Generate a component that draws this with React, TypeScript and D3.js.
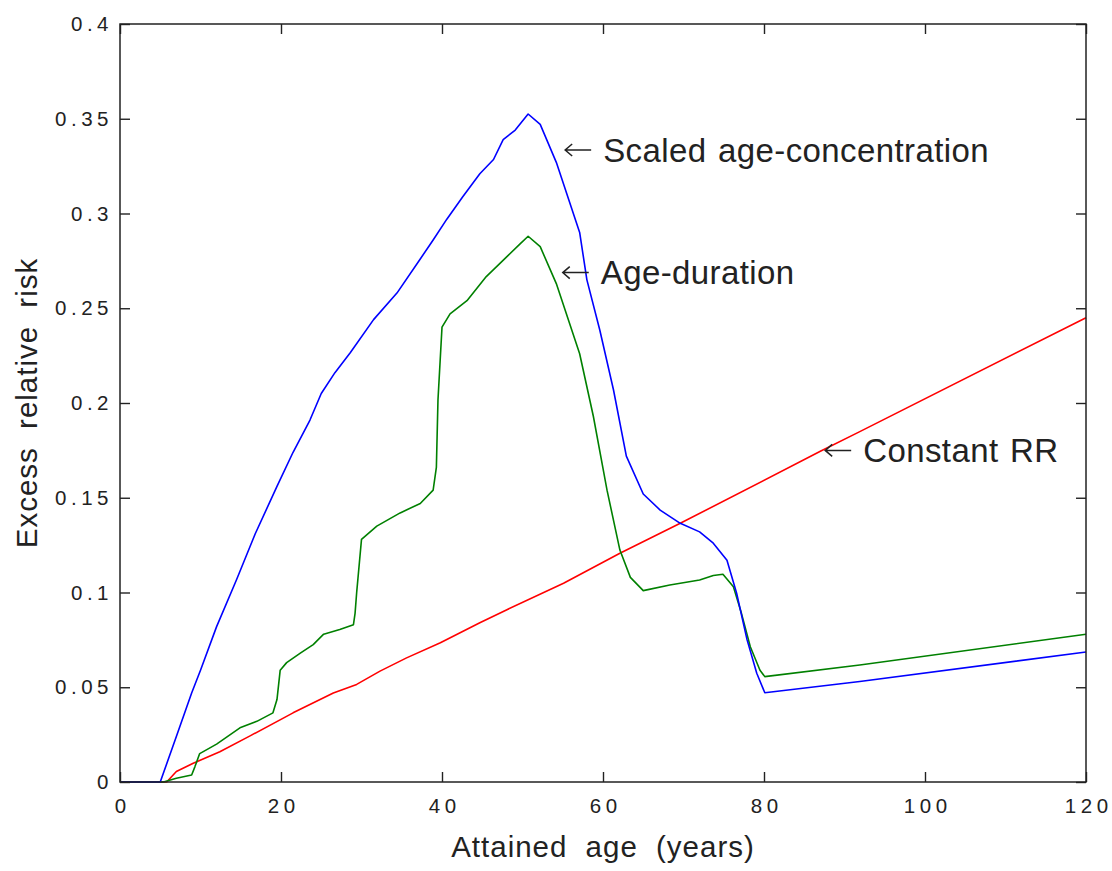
import React, { useRef, useEffect } from "react";
import * as d3 from "d3";

// Scaled age-concentration (blue)
const blueAges = [0, 5, 7, 8.9, 10, 12, 14.5, 16.8, 19.5, 21.5, 23.6, 25, 26.7, 28.6, 31.5, 34.4, 37.3, 38.9, 40.6, 42.6, 44.7, 46.4, 47.6, 49.1, 50.7, 52.2, 54.2, 57.1, 58, 59.6, 61.3, 62.9, 65, 67.1, 69.6, 72, 73.7, 75.4, 76.6, 77.9, 79.1, 80.1, 91.9, 120];
const blueValues = [0, 0, 0.024, 0.047, 0.059, 0.082, 0.107, 0.131, 0.156, 0.174, 0.191, 0.205, 0.216, 0.2265, 0.244, 0.258, 0.276, 0.286, 0.297, 0.309, 0.321, 0.3285, 0.339, 0.344, 0.3525, 0.347, 0.327, 0.29, 0.265, 0.2385, 0.207, 0.172, 0.152, 0.1435, 0.1365, 0.132, 0.126, 0.117, 0.0996, 0.075, 0.0574, 0.0471, 0.053, 0.0686];

// Age-duration (green)
const greenAges = [0, 5.4, 7, 8.9, 9.3, 9.9, 12, 14.9, 17, 19, 19.5, 19.9, 20.7, 22.4, 24, 25.3, 27.3, 29, 29.2, 29.4, 30, 31.9, 34.8, 37.3, 38.9, 39.3, 39.5, 40, 41, 43.1, 45.5, 48, 49.7, 50.7, 52.2, 54.2, 57.1, 58.8, 60.5, 62.1, 63.4, 65, 68.3, 72, 73.7, 74.9, 76.2, 77.2, 78.3, 79.5, 80.1, 91.9, 120];
const greenValues = [0, 0, 0.002, 0.0037, 0.008, 0.015, 0.02, 0.0286, 0.032, 0.0365, 0.0435, 0.059, 0.063, 0.068, 0.0725, 0.078, 0.0805, 0.083, 0.089, 0.1, 0.128, 0.135, 0.142, 0.147, 0.154, 0.166, 0.2016, 0.24, 0.247, 0.254, 0.2667, 0.277, 0.284, 0.288, 0.2825, 0.263, 0.226, 0.193, 0.154, 0.1224, 0.108, 0.101, 0.104, 0.1066, 0.109, 0.1096, 0.103, 0.089, 0.0714, 0.059, 0.0556, 0.0617, 0.078];

// Constant RR (red)
const redAges = [0, 5.8, 7, 9.1, 12.4, 16.1, 21.5, 26.5, 29.4, 32.3, 35.6, 39.8, 44.7, 48, 55.1, 62.1, 69.6, 87, 91.9, 120];
const redValues = [0, 0, 0.0055, 0.0099, 0.016, 0.0242, 0.0365, 0.047, 0.0515, 0.0585, 0.0655, 0.0735, 0.084, 0.0908, 0.1049, 0.1207, 0.1365, 0.1745, 0.1849, 0.245];

const xTicks = [0, 20, 40, 60, 80, 100, 120];
const yTicks = [0, 0.05, 0.1, 0.15, 0.2, 0.25, 0.3, 0.35, 0.4];
const yTickLabels = ["0", "0.05", "0.1", "0.15", "0.2", "0.25", "0.3", "0.35", "0.4"];

const noteLabels = ["Scaled age-concentration", "Age-duration", "Constant RR"];
const noteAges = [55.3, 55.0, 87.6];
const noteValues = [0.3335, 0.2688, 0.175];

const FONT = "Arial, 'Liberation Sans', Helvetica, sans-serif";

const Chart: React.FC = () => {
  const ref = useRef<SVGSVGElement | null>(null);

  useEffect(() => {
    const width = 1112;
    const height = 871;
    const margin = { top: 24, right: 26, bottom: 89, left: 120 };
    const w = width - margin.left - margin.right;
    const h = height - margin.top - margin.bottom;

    d3.select(ref.current).selectAll("*").remove();

    const root = d3.select(ref.current).attr("width", width).attr("height", height);
    root.append("rect").attr("width", width).attr("height", height).attr("fill", "#fff");

    const svg = root.append("g").attr("transform", `translate(${margin.left},${margin.top})`);

    const x = d3.scaleLinear().domain([0, 120]).range([0, w]);
    const y = d3.scaleLinear().domain([0, 0.4]).range([h, 0]);

    // series lines
    const series = [
      { ages: redAges, values: redValues, color: "#ff0000" },
      { ages: greenAges, values: greenValues, color: "#008000" },
      { ages: blueAges, values: blueValues, color: "#0000ff" },
    ];
    const gen = d3
      .line<[number, number]>()
      .x((d) => x(d[0]))
      .y((d) => y(d[1]));

    series.forEach((s) => {
      const pts = s.ages.map((a, i) => [a, s.values[i]] as [number, number]);
      svg
        .append("path")
        .datum(pts)
        .attr("fill", "none")
        .attr("stroke", s.color)
        .attr("stroke-width", 1.6)
        .attr("stroke-linejoin", "round")
        .attr("d", gen);
    });

    // axes with inward ticks on all four sides
    const tickStyle = (g: d3.Selection<SVGGElement, unknown, null, undefined>) => {
      g.select(".domain").remove();
      g.selectAll(".tick line").attr("stroke", "#222").attr("stroke-width", 1.4);
      g.selectAll("text")
        .attr("fill", "#222")
        .style("font-family", FONT)
        .style("font-size", "20.5px")
        .style("letter-spacing", "4.5px");
    };

    svg
      .append("g")
      .attr("transform", `translate(0,${h})`)
      .call(d3.axisBottom(x).tickValues(xTicks).tickSize(-10).tickPadding(16).tickFormat(d3.format("d")) as any)
      .call(tickStyle as any)
      .selectAll("text")
      .attr("dx", "2.2");
    svg
      .append("g")
      .call(d3.axisTop(x).tickValues(xTicks).tickSize(-10).tickFormat(() => "") as any)
      .call(tickStyle as any);
    svg
      .append("g")
      .call(
        d3
          .axisLeft(y)
          .tickValues(yTicks)
          .tickSize(-10)
          .tickPadding(7)
          .tickFormat((_, i) => yTickLabels[i]) as any,
      )
      .call(tickStyle as any);
    svg
      .append("g")
      .attr("transform", `translate(${w},0)`)
      .call(d3.axisRight(y).tickValues(yTicks).tickSize(-10).tickFormat(() => "") as any)
      .call(tickStyle as any);

    // frame
    svg
      .append("rect")
      .attr("width", w)
      .attr("height", h)
      .attr("fill", "none")
      .attr("stroke", "#222")
      .attr("stroke-width", 1.5);

    // axis labels
    svg
      .append("text")
      .attr("x", w / 2)
      .attr("y", h + 75)
      .attr("text-anchor", "middle")
      .attr("fill", "#222")
      .style("font-family", FONT)
      .style("font-size", "29.5px")
      .style("letter-spacing", "1px")
      .style("word-spacing", "9px")
      .text("Attained age (years)");
    svg
      .append("text")
      .attr("transform", `translate(${37 - margin.left},${h / 2}) rotate(-90)`)
      .attr("text-anchor", "middle")
      .attr("fill", "#222")
      .style("font-family", FONT)
      .style("font-size", "29.5px")
      .style("letter-spacing", "1px")
      .style("word-spacing", "9px")
      .text("Excess relative risk");

    // annotations
    noteLabels.forEach((label, i) => {
      const ax = x(noteAges[i]);
      const ay = y(noteValues[i]);
      const g = svg.append("g");
      g.append("path")
        .attr("d", `M${ax},${ay}H${ax + 26}M${ax + 7},${ay - 6}L${ax},${ay}L${ax + 7},${ay + 6}`)
        .attr("fill", "none")
        .attr("stroke", "#222")
        .attr("stroke-width", 1.5);
      g.append("text")
        .attr("x", ax + 38)
        .attr("y", ay + 11.5)
        .attr("fill", "#222")
        .style("font-family", FONT)
        .style("font-size", "33px")
        .style("letter-spacing", "0.4px")
        .style("word-spacing", "2px")
        .text(label);
    });
  }, []);

  return <svg ref={ref} style={{ position: "absolute", left: 0, top: 0, display: "block" }} />;
};

export default function App() {
  return <Chart />;
}
